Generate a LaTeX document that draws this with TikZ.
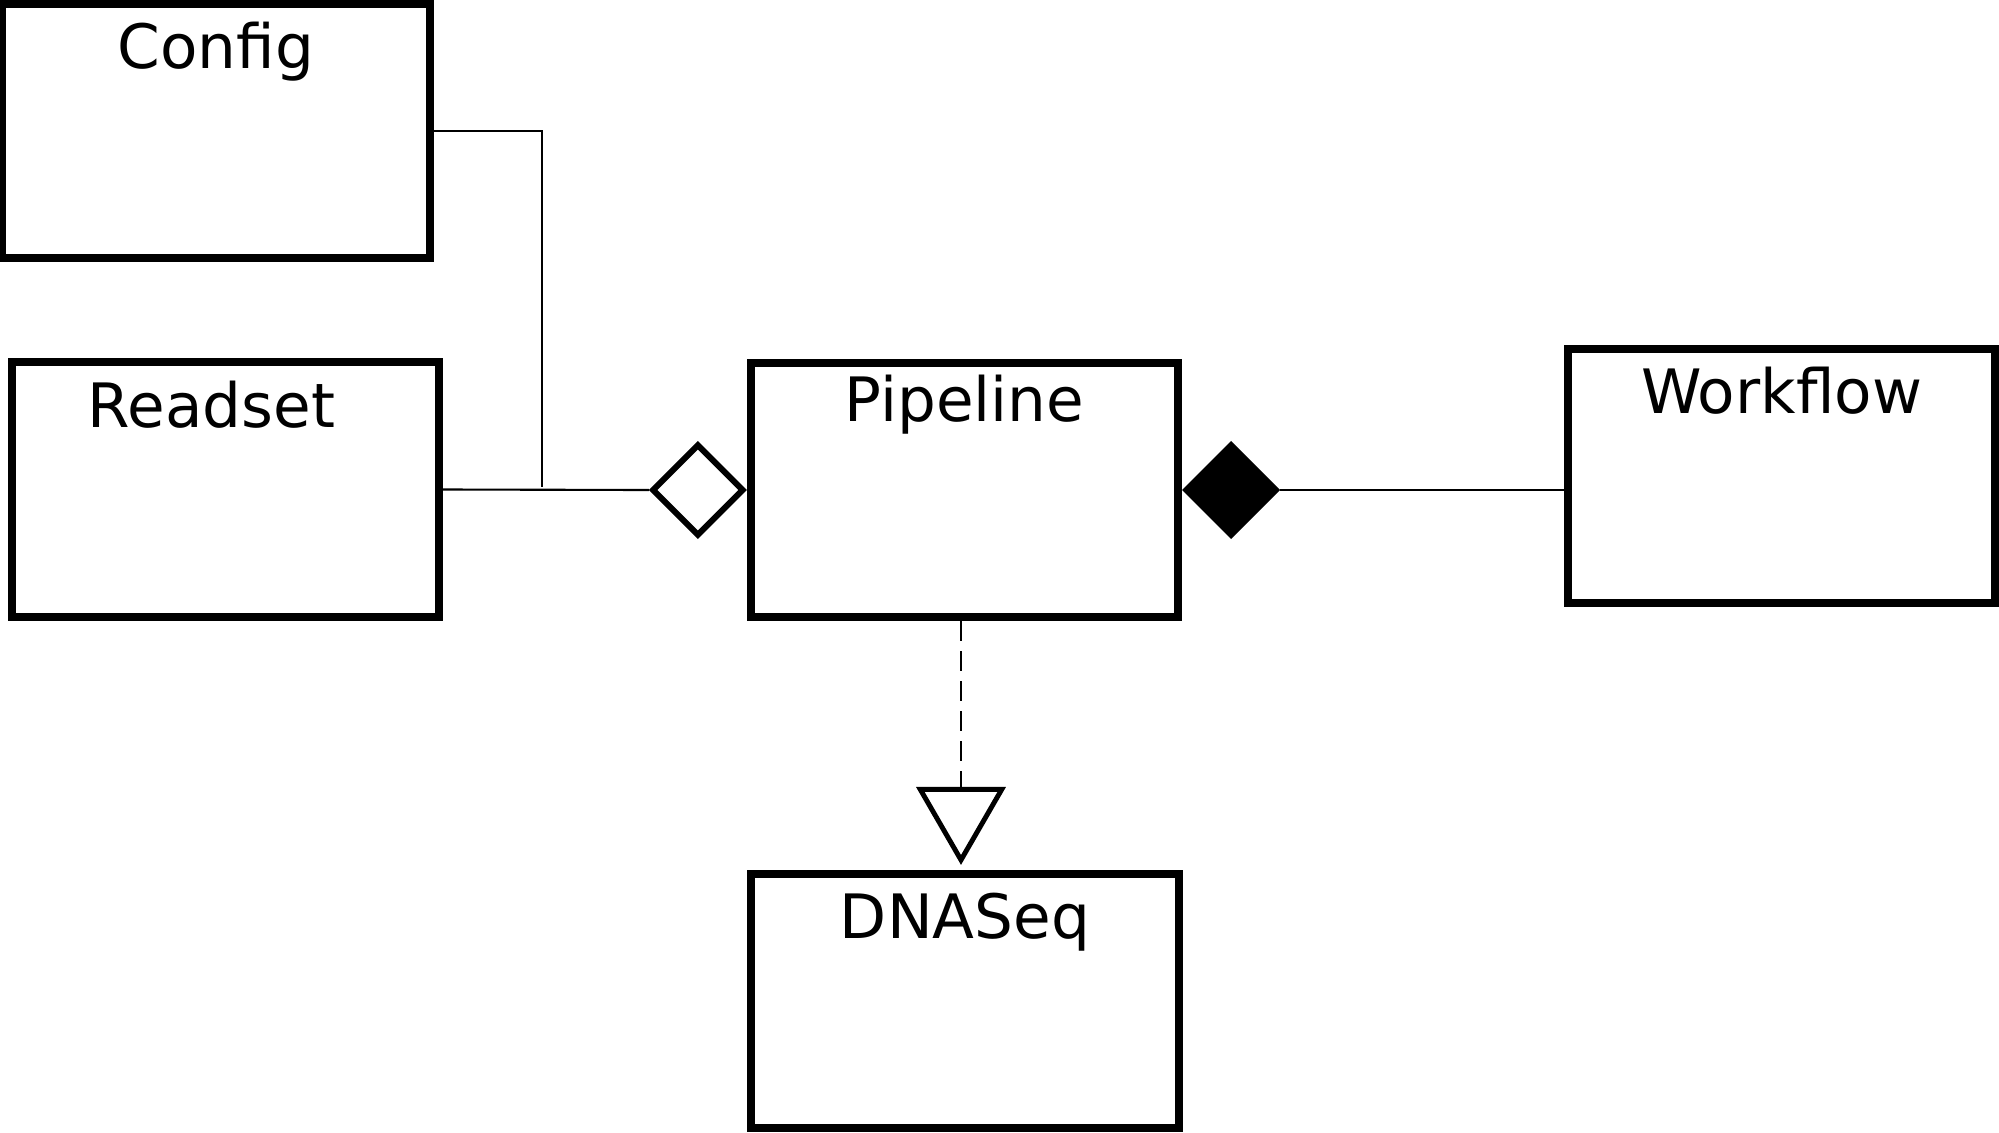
\documentclass[tikz,border=0pt]{standalone}
\usepackage{fontspec}
\setmainfont{DejaVu Sans}
\usetikzlibrary{positioning, shapes.geometric}

\begin{document}
\begin{tikzpicture}[
    x=0.01cm, y=-0.01cm,
    classbox/.style = {rectangle, draw=black, line width=2.3pt, fill=white,
                       minimum width=4.27cm, inner sep=0pt,
                       text height=0.65cm, text depth=1.89cm,
                       font=\fontsize{17.4}{20}\selectfont},
    assoc/.style    = {line width=0.6pt, draw=black},
    realize/.style  = {line width=0.6pt, draw=black,
                       dash pattern=on 0.2cm off 0.1cm},
    aggdia/.style   = {diamond, draw=black, line width=1.7pt, fill=white,
                       inner sep=0pt, minimum width=0.92cm, minimum height=0.92cm},
    compdia/.style  = {aggdia, fill=black},
    gentri/.style   = {regular polygon, regular polygon sides=3,
                       shape border rotate=180, draw=black, line width=1.4pt,
                       fill=white, inner sep=0pt, minimum size=0.94cm},
]
\useasboundingbox (0,0) rectangle (1999,1133);

%% classes
\node[classbox] (config)   at (216,   131)   {Config};
\node[classbox] (readset)  at (225.5, 489.5) {\hspace*{-0.28cm}Readset};
\node[classbox, text height=0.59cm, text depth=1.95cm]
                (pipeline) at (964.5, 490)   {Pipeline};
\node[classbox] (workflow) at (1781.5, 476)  {Workflow};
\node[classbox] (dnaseq)   at (965,   1001)  {DNASeq};

%% relation ends
\node[aggdia,  left=0pt of pipeline]  (agg)  {};
\node[compdia, right=0pt of pipeline] (comp) {};
\node[gentri,  above=0.05cm of dnaseq, xshift=-0.04cm] (gen) {};

%% connections
\coordinate (cfgjoin) at (542, 487);
\draw[assoc] (config.east) -| (cfgjoin);
\draw[assoc] (readset.east) -- (agg.west);
\draw[assoc] (comp.east) -- (comp.east -| workflow.west);
\draw[realize] (gen.north |- pipeline.south) -- (gen.north);

\end{tikzpicture}
\end{document}
